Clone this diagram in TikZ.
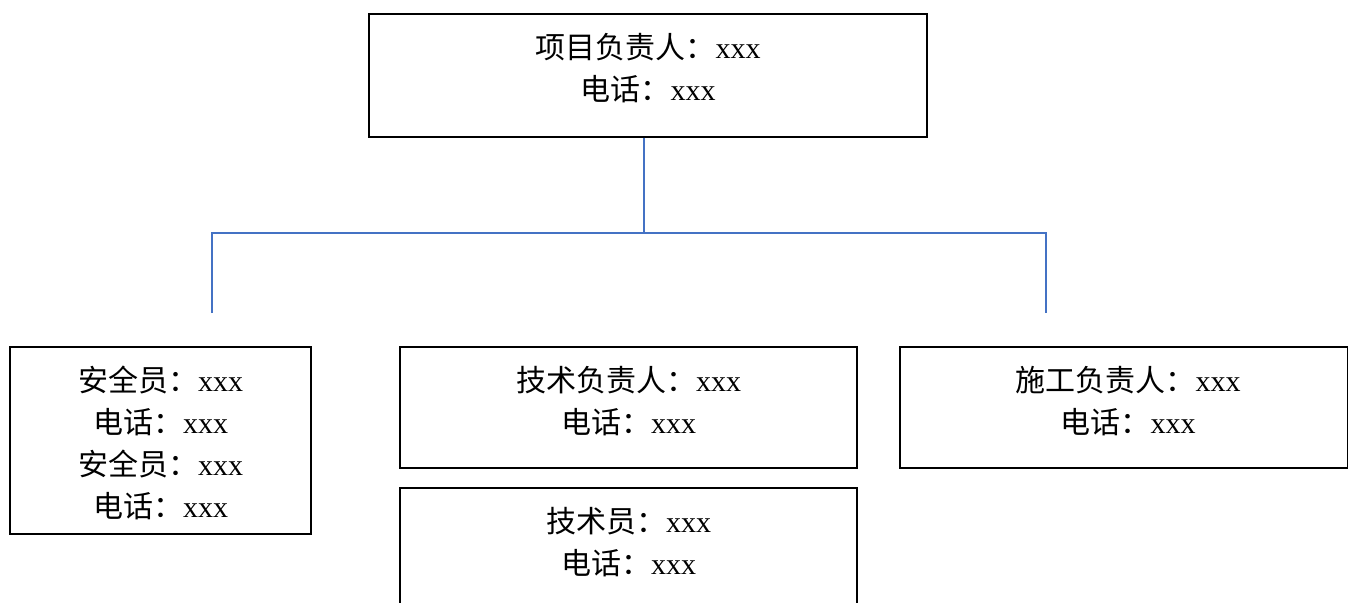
\documentclass[tikz,border=0pt]{standalone}
\usepackage{fontspec}
\setmainfont{Liberation Serif}
\newfontfamily\cjk{Noto Sans CJK SC}
\begin{document}
\begin{tikzpicture}[x=1pt,y=-1pt,
  box/.style={draw=black,line width=1.2pt,rectangle,inner sep=0pt},
  lbl/.style={anchor=base,align=center,inner sep=0pt,font=\fontsize{30}{42}\selectfont},
  conn/.style={draw={rgb,255:red,68;green,114;blue,196},line width=2pt}]
\useasboundingbox (0,0) rectangle (1348,602);
\begin{scope}
\clip (0,0) rectangle (1348,602);
% boxes
\node[box,minimum width=558pt,minimum height=123pt] (top) at (648,75.5) {};
\node[box,minimum width=301pt,minimum height=187pt] (safe) at (160.5,440.5) {};
\node[box,minimum width=457pt,minimum height=121pt] (tech) at (628.5,407.5) {};
\node[box,minimum width=457pt,minimum height=121pt] (techm) at (628.5,548.5) {};
\node[box,minimum width=448pt,minimum height=121pt] (cons) at (1124,407.5) {};
\end{scope}
% labels (anchored at the baseline of the last line)
\node[lbl] (topt) at (648,100) {{\cjk 项目负责人：}xxx\\{\cjk 电话：}xxx};
\node[lbl] (safet) at (160.5,517) {{\cjk 安全员：}xxx\\{\cjk 电话：}xxx\\{\cjk 安全员：}xxx\\{\cjk 电话：}xxx};
\node[lbl] (techt) at (628.5,433) {{\cjk 技术负责人：}xxx\\{\cjk 电话：}xxx};
\node[lbl] (techmt) at (628.5,574) {{\cjk 技术员：}xxx\\{\cjk 电话：}xxx};
\node[lbl] (const) at (1128,433) {{\cjk 施工负责人：}xxx\\{\cjk 电话：}xxx};
% connectors
\coordinate (j) at (644,233);
\coordinate (l) at (212,313);
\coordinate (r) at (1046,313);
\draw[conn] (top.south -| j) -- (j);
\draw[conn] (l) |- (j) -| (r);
\end{tikzpicture}
\end{document}
